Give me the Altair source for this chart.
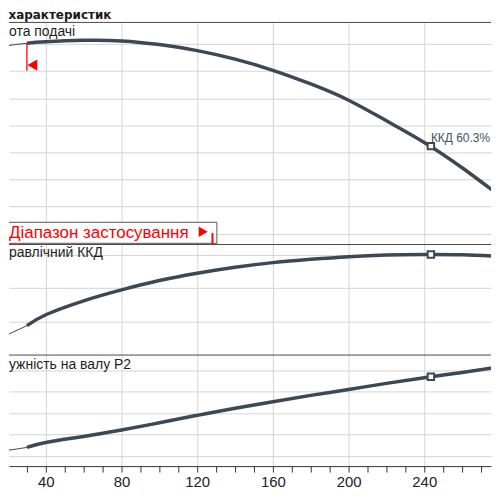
import altair as alt
import pandas as pd

# ---------------- data ----------------
flow = [20, 30, 40, 60, 80, 100, 120, 140, 160, 180, 200, 220, 240, 260, 280]
head = [15.90, 16.07, 16.17, 16.28, 16.24, 15.97, 15.52, 14.89, 14.07, 13.06,
        11.86, 10.34, 8.74, 6.87, 4.79]
efficiency = [12.1, 17.4, 24.0, 32.4, 39.0, 44.6, 49.0, 52.6, 55.4, 57.4,
              59.0, 60.0, 60.3, 60.1, 59.1]
power = [2.52, 2.79, 3.25, 3.82, 4.43, 5.10, 5.80, 6.46, 7.08, 7.67,
         8.23, 8.80, 9.33, 9.82, 10.34]

duty_flow = 243.5
duty_head = 8.47
duty_eff = 60.3
duty_power = 9.42
range_start = 30

x_tick_values = list(range(30, 280, 10))
x_grid_values = [40, 80, 120, 160, 200, 240]
head_grid = [2, 4, 6, 8, 10, 12, 14, 16]
eff_grid = [20, 40, 60]
power_grid = [2, 4, 6, 8, 10]

# texts as they are visible in the (cropped) reference
chart_title = "характеристик"
panel_titles = ["ота подачі", "равлічний ККД", "ужність на валу P2"]
range_label = "Діапазон застосування"
duty_label = f"ККД {duty_eff}%"

# ---------------- style ----------------
W = 484                      # 500 px window minus the page's 8 px margins
PX_PER_UNIT = 1.9
X0 = 20.53
X_DOMAIN = [X0, X0 + W / PX_PER_UNIT]
CURVE = "#3c4853"
GRID = "#d4d4d4"
BORDER = "#4a4a4a"
RED = "#ff0000"
FONT = "Liberation Sans"

plain_x_axis = alt.Axis(values=x_grid_values, grid=True, gridColor=GRID, labels=False,
                        ticks=False, domain=False, title=None)
bottom_x_axis = alt.Axis(
    values=x_tick_values, grid=True,
    gridColor={"condition": {"test": "datum.value % 40 === 0", "value": GRID}, "value": "transparent"},
    labelExpr="datum.value % 40 === 0 ? datum.label : ''",
    ticks=True, tickSize=6, tickColor="#333333", tickWidth=1,
    domain=True, domainColor="#333333", domainWidth=1,
    labelFont=FONT, labelFontSize=15, labelColor="#222222", labelPadding=2,
    labelOverlap=False, labelFlush=False, title=None)


def xe(axis):
    return alt.X("q:Q", scale=alt.Scale(domain=X_DOMAIN, nice=False, zero=False), axis=axis)


def ye(domain, grid):
    return alt.Y("v:Q", scale=alt.Scale(domain=domain, nice=False, zero=False),
                 axis=alt.Axis(values=grid, grid=True, gridColor=GRID, labels=False,
                               ticks=False, domain=False, title=None))


def panel(values, duty_value, domain, grid, height, title, title_y, x_axis, extra=None):
    df = pd.DataFrame({"q": flow, "v": values})
    base = alt.Chart(df).encode(x=xe(x_axis), y=ye(domain, grid))
    thin = base.transform_filter(alt.datum.q <= range_start).mark_line(
        color=CURVE, strokeWidth=1, clip=True)
    thick = base.transform_filter(alt.datum.q >= range_start).mark_line(
        color=CURVE, strokeWidth=3.5, clip=True, interpolate="natural")
    duty = alt.Chart(pd.DataFrame({"q": [duty_flow], "v": [duty_value]})).mark_point(
        shape="square", size=42, filled=True, fill="white", stroke=CURVE,
        strokeWidth=2, opacity=1, clip=True).encode(x=xe(x_axis), y=ye(domain, grid))
    border = alt.Chart(pd.DataFrame({"t": [0]})).mark_rule(
        color=BORDER, strokeWidth=1).encode(
        x=alt.value(0), x2=alt.value(W), y=alt.value(0.5))
    ttl = alt.Chart(pd.DataFrame({"t": [title]})).mark_text(
        align="left", baseline="alphabetic", font=FONT, fontSize=14,
        color="#1e1e1e", clip=True).encode(
        x=alt.value(0), y=alt.value(title_y), text="t:N")
    layers = [thin, thick]
    if extra:
        layers += extra(domain, grid)
    layers += [duty, border, ttl]
    return alt.layer(*layers).properties(width=W, height=height)


def head_extras(domain, grid):
    start_head = head[flow.index(range_start)]
    mk = pd.DataFrame({"q": [range_start], "v": [start_head]})
    red_rule = alt.Chart(mk).mark_rule(color=RED, strokeWidth=1.3).encode(
        x=xe(plain_x_axis), y=ye(domain, grid), y2=alt.value(49))
    red_tri = alt.Chart(mk).mark_point(
        shape="triangle-left", filled=True, color=RED, size=130, opacity=1,
        xOffset=5.5).encode(x=xe(plain_x_axis), y=alt.value(43.3))
    box = alt.Chart(pd.DataFrame({"t": [0]})).mark_rect(
        fill="white", stroke="#777777", strokeWidth=1.2, clip=True).encode(
        x=alt.value(-20), x2=alt.value(208.7), y=alt.value(201.3), y2=alt.value(222.3))
    box_text = alt.Chart(pd.DataFrame({"t": [range_label]})).mark_text(
        align="left", baseline="alphabetic", font=FONT, fontSize=17, color=RED,
        clip=True).encode(x=alt.value(0), y=alt.value(216.7), text="t:N")
    box_tri = alt.Chart(pd.DataFrame({"t": [0]})).mark_point(
        shape="triangle-right", filled=True, color=RED, size=110, opacity=1).encode(
        x=alt.value(195), y=alt.value(210.7))
    box_bar = alt.Chart(pd.DataFrame({"t": [0]})).mark_rule(
        color=RED, strokeWidth=2, clip=True).encode(
        x=alt.value(204.3), y=alt.value(212), y2=alt.value(224))
    lbl = alt.Chart(pd.DataFrame({"q": [duty_flow], "v": [duty_head], "t": [duty_label]})).mark_text(
        align="left", baseline="alphabetic", font=FONT, fontSize=12, color="#45525f",
        dx=0, dy=-4, clip=True).encode(x=xe(plain_x_axis), y=ye(domain, grid), text="t:N")
    return [red_rule, red_tri, box, box_text, box_tri, box_bar, lbl]


p1 = panel(head, duty_head, [1.24, 17.64], head_grid, 223, panel_titles[0],
           14.5, plain_x_axis, head_extras)
p2 = panel(efficiency, duty_eff, [0, 66.6], eff_grid, 111, panel_titles[1],
           13, plain_x_axis)
p3 = panel(power, duty_power, [1.04, 11.5], power_grid, 112, panel_titles[2],
           14, bottom_x_axis)

chart = alt.vconcat(p1, p2, p3, spacing=0).properties(
    title=alt.TitleParams(chart_title, anchor="start", font="DejaVu Sans", fontSize=12,
                          fontWeight="bold", color="#1a1a1a", offset=0),
    padding=0,
).configure_view(stroke=None)

chart.save("out.html", embed_options={"renderer": "svg", "actions": False})
